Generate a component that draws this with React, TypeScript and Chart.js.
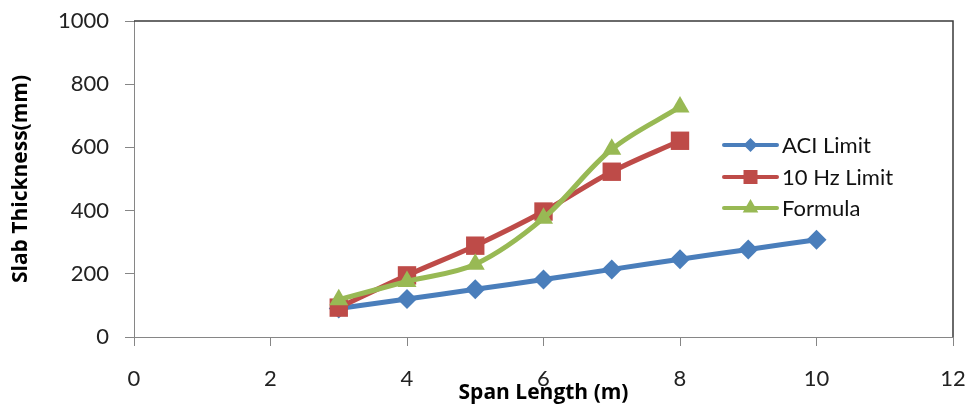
import React, { useEffect, useRef } from "react";
import { Chart, registerables } from "chart.js";

Chart.register(...registerables);

// ---- data ----
const aciSpans = [3, 4, 5, 6, 7, 8, 9, 10];
const aciLimit = [90, 120, 151, 182, 214, 246, 277, 308];
const hzSpans = [3, 4, 5, 6, 7, 8];
const hzLimit = [93, 195, 289, 397, 523, 621];
const formulaSpans = [3, 4, 5, 6, 7, 8];
const formula = [118, 176, 230, 376, 594, 728];
const seriesNames = ["ACI Limit", "10 Hz Limit", "Formula"];
const xTitle = "Span Length (m)";
const yTitle = "Slab Thickness(mm)";

const COLORS = ["#4A7EBB", "#BE4B48", "#98B954"];
const FONT = "Lato, 'Open Sans', sans-serif";
const TITLE_FONT = "'Open Sans', Lato, sans-serif";

function toPoints(xs: number[], ys: number[]) {
  return xs.map((x, i) => ({ x, y: ys[i] }));
}

function drawMarker(ctx: CanvasRenderingContext2D, style: string, x: number, y: number, r: number) {
  ctx.beginPath();
  if (style === "rectRot") {
    ctx.moveTo(x - r, y);
    ctx.lineTo(x, y - r);
    ctx.lineTo(x + r, y);
    ctx.lineTo(x, y + r);
  } else if (style === "rect") {
    ctx.rect(x - r, y - r, 2 * r, 2 * r);
  } else {
    const a = (2 * Math.PI) / 3;
    ctx.moveTo(x, y - r);
    ctx.lineTo(x + Math.sin(a) * r, y - Math.cos(a) * r);
    ctx.lineTo(x + Math.sin(2 * a) * r, y - Math.cos(2 * a) * r);
  }
  ctx.closePath();
  ctx.fill();
}

function zeroPadding(scale: any) {
  scale.paddingTop = 0;
  scale.paddingBottom = 0;
  scale.paddingLeft = 0;
  scale.paddingRight = 0;
}

const extrasPlugin = {
  id: "extras",
  afterDraw(chart: any) {
    const { ctx, chartArea } = chart;
    const { left, right, top, bottom } = chartArea;
    ctx.save();
    // plot border top/right
    ctx.strokeStyle = "#3a3a3a";
    ctx.lineWidth = 1.5;
    ctx.beginPath();
    ctx.moveTo(left, top);
    ctx.lineTo(right, top);
    ctx.lineTo(right, bottom);
    ctx.stroke();

    // x title (overlapping tick labels as in source)
    ctx.fillStyle = "#000";
    ctx.font = `bold 21px ${TITLE_FONT}`;
    ctx.textAlign = "center";
    ctx.textBaseline = "alphabetic";
    ctx.fillText(xTitle, (left + right) / 2, 399);

    // legend
    const styles = ["rectRot", "rect", "triangle"];
    const sizes = [7, 7, 9];
    const rowsY = [145, 177, 208];
    ctx.font = `22px ${FONT}`;
    ctx.textAlign = "left";
    ctx.textBaseline = "middle";
    chart.data.datasets.forEach((ds: any, i: number) => {
      const y = rowsY[i];
      ctx.strokeStyle = COLORS[i];
      ctx.fillStyle = COLORS[i];
      ctx.lineWidth = 4;
      ctx.lineCap = "round";
      ctx.beginPath();
      ctx.moveTo(724, y);
      ctx.lineTo(777, y);
      ctx.stroke();
      drawMarker(ctx, styles[i], 750.5, y, sizes[i]);
      ctx.fillStyle = "#111";
      ctx.fillText(ds.label, 782, y + 1);
    });
    ctx.restore();
  },
};

export default function App() {
  const ref = useRef<HTMLCanvasElement | null>(null);

  useEffect(() => {
    if (!ref.current) return;
    const axisColor = "#868686";
    const chart = new Chart(ref.current, {
      type: "line",
      data: {
        datasets: [
          {
            label: seriesNames[0],
            data: toPoints(aciSpans, aciLimit),
            borderColor: COLORS[0],
            backgroundColor: COLORS[0],
            borderWidth: 5,
            pointStyle: "rectRot",
            pointRadius: 10,
            pointBorderWidth: 0,
            tension: 0.35,
            order: 3,
          },
          {
            label: seriesNames[1],
            data: toPoints(hzSpans, hzLimit),
            borderColor: COLORS[1],
            backgroundColor: COLORS[1],
            borderWidth: 5,
            pointStyle: "rect",
            pointRadius: 13,
            pointBorderWidth: 0,
            tension: 0.35,
            order: 2,
          },
          {
            label: seriesNames[2],
            data: toPoints(formulaSpans, formula),
            borderColor: COLORS[2],
            backgroundColor: COLORS[2],
            borderWidth: 5,
            pointStyle: "triangle",
            pointRadius: 11,
            pointBorderWidth: 0,
            tension: 0.35,
            order: 1,
          },
        ],
      },
      options: {
        animation: false,
        responsive: false,
        maintainAspectRatio: false,
        layout: { autoPadding: false, padding: { top: 21, right: 20, bottom: 0, left: 0 } },
        plugins: {
          legend: { display: false },
          tooltip: { enabled: false },
        },
        scales: {
          x: {
            type: "linear",
            min: 0,
            max: 12,
            ticks: {
              stepSize: 2,
              padding: 20,
              color: "#222",
              font: { family: FONT, size: 22 },
              maxRotation: 0,
              callback: (v: any) => String(v),
            },
            grid: {
              drawOnChartArea: false,
              drawTicks: true,
              tickLength: 9,
              color: axisColor,
            },
            border: { color: axisColor, width: 1 },
            afterFit: (scale: any) => {
              scale.height = 75;
              zeroPadding(scale);
            },
          },
          y: {
            min: 0,
            max: 1000,
            ticks: {
              stepSize: 200,
              padding: 16,
              color: "#222",
              font: { family: FONT, size: 22 },
              callback: (v: any) => String(v),
            },
            grid: {
              drawOnChartArea: false,
              drawTicks: true,
              tickLength: 9,
              color: axisColor,
            },
            border: { color: axisColor, width: 1 },
            title: {
              display: true,
              text: yTitle,
              color: "#000",
              font: { family: TITLE_FONT, size: 21, weight: "bold" },
              padding: { top: 8, bottom: 0 },
            },
            afterFit: (scale: any) => {
              scale.width = 134;
              zeroPadding(scale);
            },
          },
        },
      },
      plugins: [extrasPlugin],
    } as any);
    return () => chart.destroy();
  }, []);

  return (
    <div style={{ position: "fixed", left: 0, top: 0, width: 973, height: 412, background: "#fff" }}>
      <canvas ref={ref} width={973} height={412} style={{ width: 973, height: 412, display: "block" }} />
    </div>
  );
}
